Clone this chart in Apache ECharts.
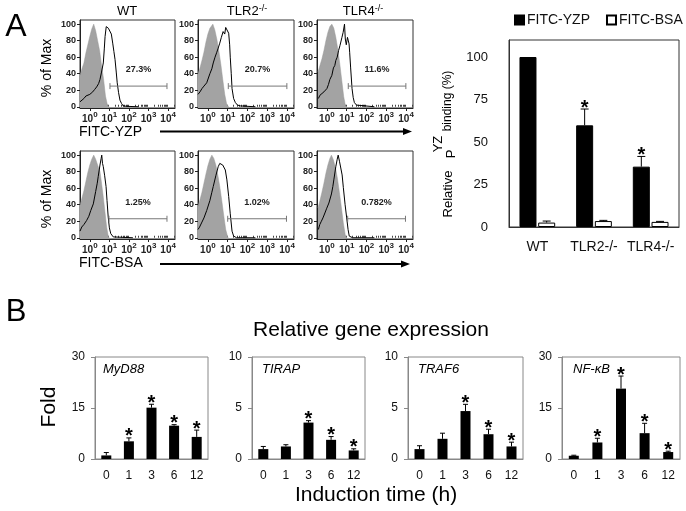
<!DOCTYPE html>
<html><head><meta charset="utf-8">
<script src="https://cdn.jsdelivr.net/npm/echarts@6/dist/echarts.min.js"></script>
<style>html,body{margin:0;padding:0;background:#fff}#c{width:686px;height:511px}</style>
</head><body><div id="c"></div>
<script>
const FONT = 'Liberation Sans, Arial, sans-serif';

// ---------- Panel A: flow histograms (x = log10 decades, y = % of Max) ----------
const flowXTicks = [0, 1, 2, 3, 4];
const flowYTicks = [0, 20, 40, 60, 80, 100];
const flowTitles = ['WT', 'TLR2{s|-/-}', 'TLR4{s|-/-}'];
const rowLabels = ['FITC-YZP', 'FITC-BSA'];

const grayWtYzp = [[-0.5,38],[-0.4,46],[-0.3,53],[-0.2,65],[-0.1,75],[0,85],[0.1,94],[0.2,100],[0.3,92],[0.4,80],[0.5,68],[0.6,50],[0.7,34],[0.8,13],[0.9,2],[1.0,0]];
const grayTlr2Yzp = [[-0.5,40],[-0.4,47],[-0.3,56],[-0.2,66],[-0.1,78],[0,88],[0.1,95],[0.25,100],[0.35,93],[0.45,82],[0.55,68],[0.65,52],[0.75,33],[0.85,15],[0.95,3],[1.05,0]];
const grayTlr4Yzp = [[-0.45,42],[-0.35,50],[-0.25,58],[-0.15,68],[-0.05,80],[0.05,90],[0.15,97],[0.25,100],[0.35,95],[0.45,84],[0.55,70],[0.65,52],[0.75,32],[0.85,12],[0.93,2],[1.0,0]];
const grayWtBsa = [[-0.5,39],[-0.4,48],[-0.3,57],[-0.2,68],[-0.1,79],[0,88],[0.1,95],[0.2,100],[0.3,95],[0.4,88],[0.52,80],[0.6,66],[0.69,49],[0.78,30],[0.86,13],[0.94,2],[1.0,0]];
const grayTlr2Bsa = [[-0.5,38],[-0.4,46],[-0.3,55],[-0.2,66],[-0.1,77],[0,87],[0.1,95],[0.2,100],[0.3,96],[0.4,88],[0.5,76],[0.6,62],[0.7,45],[0.8,27],[0.9,10],[1.0,1],[1.05,0]];
const grayTlr4Bsa = [[-0.45,36],[-0.35,45],[-0.25,55],[-0.15,66],[-0.05,78],[0.05,88],[0.15,96],[0.23,100],[0.33,94],[0.43,85],[0.53,72],[0.63,55],[0.73,37],[0.83,18],[0.93,3],[1.0,0]];

const lineWtYzp = [[-0.5,6],[-0.4,8],[-0.3,10],[-0.2,13],[-0.1,12],[0,15],[0.15,18],[0.25,21],[0.35,24],[0.45,28],[0.52,33],[0.6,42],[0.69,53],[0.74,70],[0.78,85],[0.84,97],[0.89,99],[0.95,95],[1.03,97],[1.1,88],[1.17,77],[1.23,67],[1.29,57],[1.35,42],[1.4,29],[1.47,17],[1.54,8],[1.62,4],[1.71,1],[1.9,0.5],[2.5,0]];
const lineTlr2Yzp = [[-0.5,15],[-0.4,18],[-0.3,22],[-0.2,25],[-0.06,29],[0.1,40],[0.2,46],[0.27,53],[0.36,60],[0.45,66],[0.52,71],[0.6,77],[0.68,84],[0.77,91],[0.85,88],[0.9,96],[0.96,95],[1.05,89],[1.1,75],[1.13,60],[1.18,40],[1.22,22],[1.3,10],[1.39,5],[1.5,2],[1.64,1],[2.4,0]];
const lineTlr4Yzp = [[-0.43,10],[-0.35,14],[-0.25,12],[-0.15,18],[-0.05,19],[0,22],[0.08,27],[0.15,33],[0.25,38],[0.33,47],[0.4,50],[0.45,56],[0.52,60],[0.59,68],[0.66,74],[0.76,84],[0.82,90],[0.89,100],[0.93,82],[0.98,75],[1.04,84],[1.08,85],[1.12,76],[1.15,66],[1.2,47],[1.27,22],[1.33,11],[1.39,5],[1.5,2],[1.59,1],[2.4,0]];
const lineWtBsa = [[-0.5,8],[-0.41,13],[-0.3,16],[-0.16,21],[-0.05,26],[0.05,33],[0.18,41],[0.3,56],[0.38,66],[0.43,74],[0.52,88],[0.58,96],[0.61,100],[0.65,90],[0.69,86],[0.76,75],[0.83,62],[0.88,45],[0.94,25],[1.0,12],[1.07,5],[1.2,1],[2.2,0]];
const lineTlr2Bsa = [[-0.5,10],[-0.42,13],[-0.3,19],[-0.2,24],[-0.06,33],[0.1,45],[0.2,55],[0.27,62],[0.4,75],[0.52,86],[0.6,90],[0.69,92],[0.75,88],[0.81,90],[0.88,82],[0.96,70],[1.05,50],[1.13,29],[1.22,8],[1.3,2],[1.45,0],[2.4,0]];
const lineTlr4Bsa = [[-0.43,10],[-0.36,16],[-0.28,20],[-0.2,24],[-0.1,30],[-0.02,35],[0.1,42],[0.23,53],[0.3,62],[0.35,70],[0.45,86],[0.52,95],[0.57,100],[0.64,92],[0.71,90],[0.77,76],[0.83,61],[0.92,40],[1.0,24],[1.07,10],[1.13,2],[1.3,0],[2.4,0]];

const grayHist = [grayWtYzp, grayTlr2Yzp, grayTlr4Yzp, grayWtBsa, grayTlr2Bsa, grayTlr4Bsa];
const lineHist = [lineWtYzp, lineTlr2Yzp, lineTlr4Yzp, lineWtBsa, lineTlr2Bsa, lineTlr4Bsa];
const gatePct = ['27.3%', '20.7%', '11.6%', '1.25%', '1.02%', '0.782%'];
const gateFrom = [1.03, 1.03, 1.08, 0.98, 1.0, 1.05];
const gateTo = [3.94, 3.99, 3.99, 3.94, 3.97, 3.97];
const gateLevel = [25, 25, 25, 23, 23, 23];
const gateTextLevel = [45, 45, 45, 43, 43, 43];

// ---------- Panel A: bar chart ----------
const barACats = ['WT', 'TLR2-/-', 'TLR4-/-'];
const barAYTicks = [0, 25, 50, 75, 100];
const yzpMean = [100, 59.8, 35.5];
const yzpErr = [0, 9.6, 6.0];
const yzpSig = [0, 1, 1];
const bsaMean = [2.6, 3.5, 3.0];
const bsaErr = [0.9, 0.4, 0.3];
const bsaSig = [0, 0, 0];

// ---------- Panel B: gene expression ----------
const timeCats = ['0', '1', '3', '6', '12'];
const geneNames = ['MyD88', 'TIRAP', 'TRAF6', 'NF-κB'];
const geneMax = [30, 10, 10, 30];
const geneStep = [15, 5, 5, 15];
const myd88Mean = [1.05, 5.2, 15.1, 9.8, 6.5];
const myd88Err = [0.85, 1.0, 1.0, 0.3, 2.0];
const myd88Sig = [0, 1, 1, 1, 1];
const tirapMean = [0.97, 1.23, 3.57, 1.88, 0.84];
const tirapErr = [0.26, 0.17, 0.19, 0.32, 0.16];
const tirapSig = [0, 0, 1, 1, 1];
const traf6Mean = [0.97, 1.98, 4.7, 2.43, 1.23];
const traf6Err = [0.33, 0.55, 0.66, 0.49, 0.42];
const traf6Sig = [0, 0, 1, 1, 1];
const nfkbMean = [0.96, 4.86, 20.7, 7.6, 2.05];
const nfkbErr = [0.15, 1.24, 3.7, 2.9, 0.25];
const nfkbSig = [0, 1, 1, 1, 1];
const geneMean = [myd88Mean, tirapMean, traf6Mean, nfkbMean];
const geneErr = [myd88Err, tirapErr, traf6Err, nfkbErr];
const geneSig = [myd88Sig, tirapSig, traf6Sig, nfkbSig];

// ---------- layout ----------
const flowCols = [[80, 95], [198, 96], [317, 96]];
const flowRows = [[20, 88], [151, 88]];
const barAGrid = {left: 509, top: 40, width: 170, height: 187};
const geneGrids = [[95, 113], [252, 113], [408, 115], [562, 118]];
const geneTop = 357, geneHeight = 102;

const minorTicks = [];
for (let d = -1; d < 5; d++) for (let k = 2; k <= 9; k++) {
  const v = d + Math.log10(k);
  if (v > -0.5 && v < 4.35) minorTicks.push(v);
}

const grids = [], xAxes = [], yAxes = [], series = [];

function errRender(offset, cap, starFont) {
  return function (params, api) {
    const i = api.value(0), m = api.value(1), e = api.value(2), s = api.value(3);
    const p0 = api.coord([i, m]);
    const p1 = api.coord([i, m + e]);
    const x = p0[0] + offset;
    const ch = [];
    if (e > 0) {
      ch.push({type: 'line', shape: {x1: x, y1: p0[1], x2: x, y2: p1[1]}, style: {stroke: '#000', lineWidth: 1}});
      ch.push({type: 'line', shape: {x1: x - cap, y1: p1[1], x2: x + cap, y2: p1[1]}, style: {stroke: '#000', lineWidth: 1}});
    }
    if (s) {
      ch.push({type: 'text', x: x, y: p1[1] - 1, style: {text: '*', font: 'bold ' + starFont + 'px ' + FONT, fill: '#000', textAlign: 'center', textVerticalAlign: 'middle'}});
    }
    return {type: 'group', children: ch};
  };
}

// flow panels
for (let r = 0; r < 2; r++) for (let c = 0; c < 3; c++) {
  const k = r * 3 + c;
  grids.push({left: flowCols[c][0], width: flowCols[c][1], top: flowRows[r][0], height: flowRows[r][1], show: true, borderColor: '#333', borderWidth: 1, containLabel: false});
  const gi = grids.length - 1;
  xAxes.push({type: 'value', gridIndex: gi, min: -0.5, max: 4.35,
    axisLine: {show: true, onZero: false, lineStyle: {color: '#222', width: 1}},
    axisTick: {show: true, length: 3, customValues: flowXTicks, lineStyle: {color: '#222'}},
    splitLine: {show: false},
    axisLabel: {show: true, customValues: flowXTicks, margin: 3, formatter: v => '{b|10}{s|' + v + '}',
      rich: {b: {fontSize: 10, fontWeight: 'bold', fontFamily: FONT, color: '#222', lineHeight: 16}, s: {fontSize: 8, fontWeight: 'bold', fontFamily: FONT, color: '#222', verticalAlign: 'top'}}}
  });
  const xi = xAxes.length - 1;
  xAxes.push({type: 'value', gridIndex: gi, min: -0.5, max: 4.35,
    axisLine: {show: false}, splitLine: {show: false}, axisLabel: {show: false},
    axisTick: {show: true, length: 2, customValues: minorTicks, lineStyle: {color: '#444'}}
  });
  yAxes.push({type: 'value', gridIndex: gi, min: -1.5, max: 105,
    axisLine: {show: true, onZero: false, lineStyle: {color: '#222', width: 1}},
    axisTick: {show: true, length: 3, customValues: flowYTicks, lineStyle: {color: '#222'}},
    splitLine: {show: false},
    axisLabel: {customValues: flowYTicks, margin: 4, fontSize: 9, fontWeight: 'bold', fontFamily: FONT, color: '#222'}
  });
  const yi = yAxes.length - 1;
  series.push({type: 'line', xAxisIndex: xi, yAxisIndex: yi, data: grayHist[k], symbol: 'none', smooth: false,
    lineStyle: {width: 0.5, color: '#9a9a9a'}, areaStyle: {color: '#a3a3a3', opacity: 1, origin: 'start'}, z: 2, silent: true});
  series.push({type: 'line', xAxisIndex: xi, yAxisIndex: yi, data: lineHist[k], symbol: 'none', smooth: false,
    lineStyle: {width: 1, color: '#000'}, z: 3, silent: true});
  series.push({type: 'custom', xAxisIndex: xi, yAxisIndex: yi, z: 4, silent: true,
    data: [[gateFrom[k], gateTo[k], gateLevel[k], gateTextLevel[k]]],
    encode: {x: [0, 1], y: [2, 3]},
    renderItem: (params, api) => {
      const a = api.coord([api.value(0), api.value(2)]);
      const b = api.coord([api.value(1), api.value(2)]);
      const t = api.coord([(api.value(0) + api.value(1)) / 2, api.value(3)]);
      return {type: 'group', children: [
        {type: 'line', shape: {x1: a[0], y1: a[1], x2: b[0], y2: b[1]}, style: {stroke: '#777', lineWidth: 1}},
        {type: 'line', shape: {x1: a[0], y1: a[1] - 3, x2: a[0], y2: a[1] + 3}, style: {stroke: '#777', lineWidth: 1}},
        {type: 'line', shape: {x1: b[0], y1: b[1] - 3, x2: b[0], y2: b[1] + 3}, style: {stroke: '#777', lineWidth: 1}},
        {type: 'text', x: t[0], y: t[1], style: {text: gatePct[k], font: 'bold 9px ' + FONT, fill: '#222', textAlign: 'center', textVerticalAlign: 'middle'}}
      ]};
    }
  });
}

// bar chart A
grids.push(Object.assign({show: true, borderColor: '#333', borderWidth: 1}, barAGrid));
let gA = grids.length - 1;
xAxes.push({type: 'category', gridIndex: gA, data: barACats,
  axisLine: {lineStyle: {color: '#333'}}, axisTick: {show: false},
  axisLabel: {interval: 0, hideOverlap: false, fontSize: 14, fontFamily: FONT, color: '#111', margin: 13}});
let xA = xAxes.length - 1;
yAxes.push({type: 'value', gridIndex: gA, min: 0, max: 110,
  axisLine: {show: true, lineStyle: {color: '#333'}}, axisTick: {show: false}, splitLine: {show: false},
  axisLabel: {customValues: barAYTicks, fontSize: 13, fontFamily: FONT, color: '#111', margin: 21}});
let yA = yAxes.length - 1;
series.push({type: 'bar', name: 'FITC-YZP', xAxisIndex: xA, yAxisIndex: yA, data: yzpMean, barWidth: 17, barGap: '10%',
  itemStyle: {color: '#000', borderColor: '#000', borderWidth: 1}, z: 2});
series.push({type: 'bar', name: 'FITC-BSA', xAxisIndex: xA, yAxisIndex: yA, data: bsaMean, barWidth: 17, barGap: '10%',
  itemStyle: {color: '#fff', borderColor: '#000', borderWidth: 1}, z: 2});
series.push({type: 'custom', xAxisIndex: xA, yAxisIndex: yA, z: 5, silent: true,
  data: yzpMean.map((m, i) => [i, m, yzpErr[i], yzpSig[i]]), renderItem: errRender(-9.35, 4, 20)});
series.push({type: 'custom', xAxisIndex: xA, yAxisIndex: yA, z: 5, silent: true,
  data: bsaMean.map((m, i) => [i, m, bsaErr[i], bsaSig[i]]), renderItem: errRender(9.35, 4, 20)});

// gene panels
for (let g = 0; g < 4; g++) {
  grids.push({left: geneGrids[g][0], width: geneGrids[g][1], top: geneTop, height: geneHeight, show: true, borderColor: '#888', borderWidth: 1});
  const gi = grids.length - 1;
  xAxes.push({type: 'category', gridIndex: gi, data: timeCats,
    axisLine: {lineStyle: {color: '#888'}}, axisTick: {show: false},
    axisLabel: {interval: 0, fontSize: 12, fontFamily: FONT, color: '#111', margin: 11}});
  const xi = xAxes.length - 1;
  yAxes.push({type: 'value', gridIndex: gi, min: 0, max: geneMax[g], interval: geneStep[g],
    axisLine: {show: true, lineStyle: {color: '#888'}}, axisTick: {show: true, length: 4, lineStyle: {color: '#888'}},
    splitLine: {show: false},
    axisLabel: {fontSize: 12, fontFamily: FONT, color: '#111', margin: 10}});
  const yi = yAxes.length - 1;
  series.push({type: 'bar', xAxisIndex: xi, yAxisIndex: yi, data: geneMean[g], barWidth: 10,
    itemStyle: {color: '#000'}, z: 2});
  series.push({type: 'custom', xAxisIndex: xi, yAxisIndex: yi, z: 5, silent: true,
    data: geneMean[g].map((m, i) => [i, m, geneErr[g][i], geneSig[g][i]]), renderItem: errRender(0, 2.5, 20)});
}

function txt(x, y, text, font, extra) {
  return {type: 'text', x: x, y: y, style: Object.assign({text: text, font: font, fill: '#000', textAlign: 'center', textVerticalAlign: 'middle'}, extra || {})};
}
function vtxt(x, y, text, font) {
  return {type: 'text', x: x, y: y, rotation: Math.PI / 2, style: {text: text, font: font, fill: '#000', textAlign: 'center', textVerticalAlign: 'middle'}};
}
const supRich = {s: {fontSize: 9, fontFamily: FONT, verticalAlign: 'top', fill: '#000'}};
const graphics = [
  txt(16, 27, 'A', '32px ' + FONT),
  txt(16, 312, 'B', '31px ' + FONT),
  txt(127, 11, flowTitles[0], '13px ' + FONT, {rich: supRich}),
  txt(247, 11, flowTitles[1], '13px ' + FONT, {rich: supRich}),
  txt(363, 11, flowTitles[2], '13px ' + FONT, {rich: supRich}),
  vtxt(47, 68, '% of Max', '14px ' + FONT),
  vtxt(47, 199, '% of Max', '14px ' + FONT),
  txt(79, 132, rowLabels[0], '14px ' + FONT, {textAlign: 'left'}),
  txt(79, 263, rowLabels[1], '14px ' + FONT, {textAlign: 'left'}),
  {type: 'line', shape: {x1: 160, y1: 131.5, x2: 405, y2: 131.5}, style: {stroke: '#000', lineWidth: 2}},
  {type: 'polygon', shape: {points: [[412, 131.5], [403, 128], [403, 135]]}, style: {fill: '#000'}},
  {type: 'line', shape: {x1: 160, y1: 264, x2: 403, y2: 264}, style: {stroke: '#000', lineWidth: 2}},
  {type: 'polygon', shape: {points: [[410, 264], [401, 260.5], [401, 267.5]]}, style: {fill: '#000'}},
  vtxt(448, 194, 'Relative', '13px ' + FONT),
  vtxt(438, 144, 'YZ', '13px ' + FONT),
  vtxt(451, 154, 'P', '13px ' + FONT),
  vtxt(448, 101, 'binding (%)', '12px ' + FONT),
  txt(371, 330, 'Relative gene expression', '21px ' + FONT),
  txt(376, 495, 'Induction time (h)', '21px ' + FONT),
  vtxt(49, 407, 'Fold', '21px ' + FONT),
  txt(geneGrids[0][0] + 8, 369, geneNames[0], 'italic 13px ' + FONT, {textAlign: 'left'}),
  txt(geneGrids[1][0] + 10, 369, geneNames[1], 'italic 13px ' + FONT, {textAlign: 'left'}),
  txt(geneGrids[2][0] + 10, 369, geneNames[2], 'italic 13px ' + FONT, {textAlign: 'left'}),
  txt(geneGrids[3][0] + 11, 369, geneNames[3], 'italic 13px ' + FONT, {textAlign: 'left'})
];

const chart = echarts.init(document.getElementById('c'), null, {renderer: 'canvas'});
chart.setOption({
  animation: false,
  backgroundColor: '#fff',
  textStyle: {fontFamily: FONT},
  legend: {orient: 'horizontal', left: 509, top: 8, width: 200, itemWidth: 9, itemHeight: 9, itemGap: 16, icon: 'rect',
    data: ['FITC-YZP', 'FITC-BSA'], textStyle: {fontSize: 14, fontFamily: FONT, color: '#111', padding: [0, 0, 0, -2]}},
  grid: grids, xAxis: xAxes, yAxis: yAxes, series: series, graphic: graphics
});
</script></body></html>
